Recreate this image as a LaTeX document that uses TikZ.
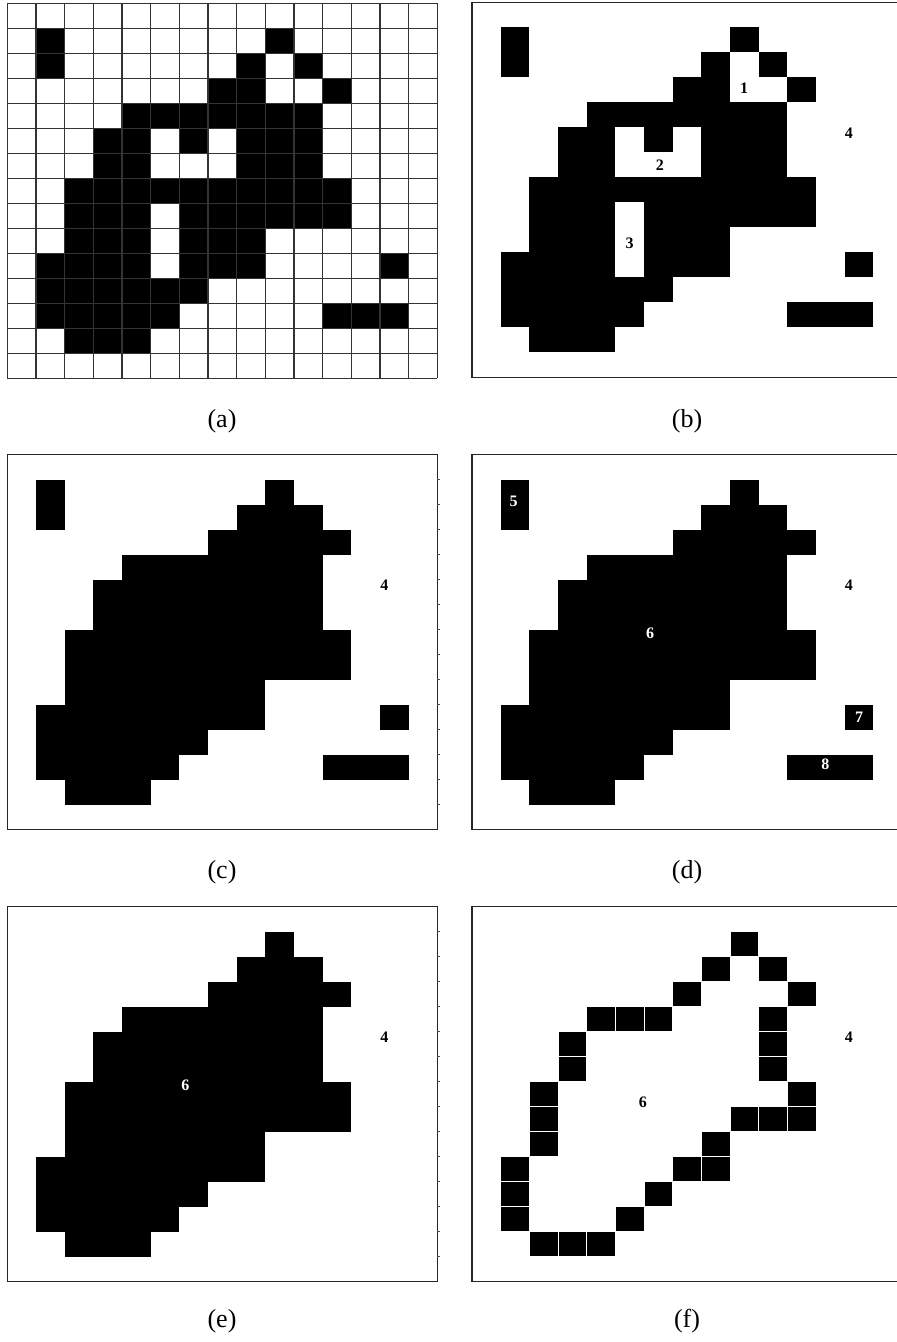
\documentclass[tikz,border=0pt]{standalone}
\usepackage{fontspec}
\setmainfont{Liberation Serif}
\begin{document}
\begin{tikzpicture}[x=1pt,y=-1pt,
  gridln/.style={draw=black!80, line width=1.6pt},
  frame/.style={draw=black!85, line width=1.4pt},
  bcell/.style={fill=black, draw=white, line width=0.7pt},
  lab/.style={font=\fontsize{16}{16}\selectfont\bfseries, inner sep=0pt},
  labw/.style={lab, text=white},
  captxt/.style={font=\fontsize{26}{30}\selectfont, inner sep=0pt},
  panel/.style={x=28.667pt, y=-25pt}]
\useasboundingbox (0,0) rectangle (897,1342);
\fill[white] (0,0) rectangle (897,1342);

\def\origruns{1/1/1,1/9/9,2/1/1,2/8/8,2/10/10,3/7/8,3/11/11,4/4/10,5/3/4,5/6/6,5/8/10,6/3/4,6/8/10,7/2/11,8/2/4,8/6/11,9/2/4,9/6/8,10/1/4,10/6/8,10/13/13,11/1/6,12/1/5,12/11/13,13/2/4}
\def\blobruns{1/9/9,2/8/10,3/7/11,4/4/10,5/3/10,6/3/10,7/2/11,8/2/11,9/2/8,10/1/8,11/1/6,12/1/5,13/2/4}
\def\smallruns{1/1/1,2/1/1,10/13/13,12/11/13}
\def\edgecells{9/1,8/2,10/2,7/3,11/3,4/4,5/4,6/4,10/4,10/5,10/6,3/5,3/6,2/7,2/8,2/9,11/7,9/8,10/8,11/8,8/9,7/10,8/10,1/10,1/11,1/12,6/11,5/12,2/13,3/13,4/13}

% ---------- (a) ----------
\begin{scope}[xshift=7.3pt, yshift=-3.3pt, panel]
  \foreach \r/\a/\b in \origruns { \fill[black] (\a,\r) rectangle (\b+1,\r+1); }
  \foreach \i in {0,...,15} {
    \draw[gridln] (\i,0) -- (\i,15);
    \draw[gridln] (0,\i) -- (15,\i);
  }
\end{scope}
\node[captxt] (capa) at (222,421) {(a)};

% ---------- (b) ----------
\begin{scope}[xshift=472pt, yshift=-2.3pt, panel]
  \foreach \r/\a/\b in \origruns { \fill[black] (\a,\r) rectangle (\b+1,\r+1); }
  \draw[frame] (14.83,0) -- (0,0) -- (0,15) -- (14.83,15);
  \node[lab] (b1) at (9.49,3.43) {1};
  \node[lab] (b2) at (6.55,6.5) {2};
  \node[lab] (b3) at (5.5,9.65) {3};
  \node[lab] (b4) at (13.15,5.22) {4};
\end{scope}
\node[captxt] (capb) at (687,421) {(b)};

% ---------- (c) ----------
\begin{scope}[xshift=7.3pt, yshift=-454.7pt, panel]
  \foreach \r/\a/\b in \blobruns { \fill[black] (\a,\r) rectangle (\b+1,\r+1); }
  \foreach \r/\a/\b in \smallruns { \fill[black] (\a,\r) rectangle (\b+1,\r+1); }
  \draw[frame] (0,0) rectangle (15,15);
  \foreach \i in {1,...,14} { \draw[black!70, line width=0.8pt] (15,\i) -- (15.08,\i); }
  \node[lab] (c4) at (13.15,5.21) {4};
\end{scope}
\node[captxt] (capc) at (222,872) {(c)};

% ---------- (d) ----------
\begin{scope}[xshift=472pt, yshift=-454.7pt, panel]
  \foreach \r/\a/\b in \blobruns { \fill[black] (\a,\r) rectangle (\b+1,\r+1); }
  \foreach \r/\a/\b in \smallruns { \fill[black] (\a,\r) rectangle (\b+1,\r+1); }
  \draw[frame] (14.83,0) -- (0,0) -- (0,15) -- (14.83,15);
  \node[labw] (d5) at (1.45,1.88) {5};
  \node[labw] (d6) at (6.21,7.13) {6};
  \node[lab]  (d4) at (13.15,5.21) {4};
  \node[labw] (d7) at (13.5,10.5) {7};
  \node[labw] (d8) at (12.33,12.4) {8};
\end{scope}
\node[captxt] (capd) at (687,872) {(d)};

% ---------- (e) ----------
\begin{scope}[xshift=7.3pt, yshift=-906.5pt, panel]
  \foreach \r/\a/\b in \blobruns { \fill[black] (\a,\r) rectangle (\b+1,\r+1); }
  \draw[frame] (0,0) rectangle (15,15);
  \foreach \i in {1,...,14} { \draw[black!70, line width=0.8pt] (15,\i) -- (15.08,\i); }
  \node[labw] (e6) at (6.21,7.14) {6};
  \node[lab]  (e4) at (13.15,5.22) {4};
\end{scope}
\node[captxt] (cape) at (222,1321) {(e)};

% ---------- (f) ----------
\begin{scope}[xshift=472pt, yshift=-906.5pt, panel]
  \foreach \c/\r in \edgecells { \filldraw[bcell] (\c,\r) rectangle (\c+1,\r+1); }
  \draw[frame] (14.83,0) -- (0,0) -- (0,15) -- (14.83,15);
  \node[lab] (f6) at (5.96,7.82) {6};
  \node[lab] (f4) at (13.15,5.22) {4};
\end{scope}
\node[captxt] (capf) at (687,1321) {(f)};
\end{tikzpicture}
\end{document}
